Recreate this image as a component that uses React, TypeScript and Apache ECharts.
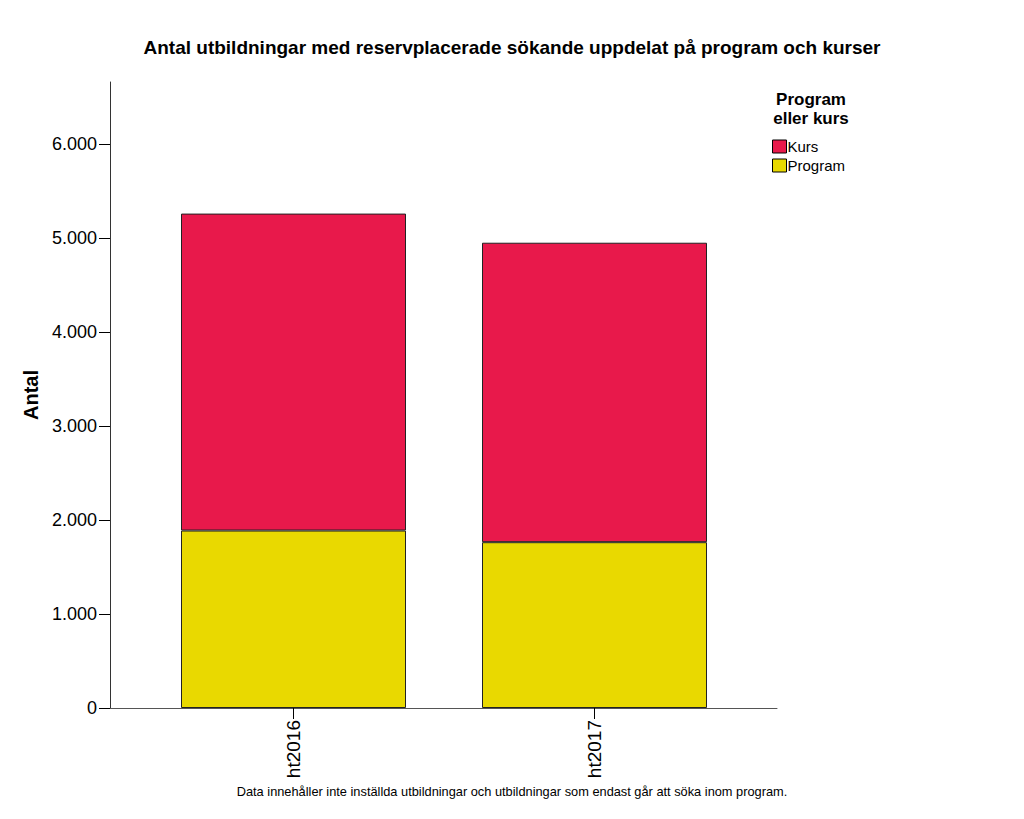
import React, { useEffect, useRef } from "react";
import * as echarts from "echarts";

const categories = ["ht2016", "ht2017"];
const programValues = [1888, 1764];
const kursValues = [3372, 3186];
const yTicks = [0, 1000, 2000, 3000, 4000, 5000, 6000];
const yMax = 6660;

const FONT = "'Liberation Sans', Arial, sans-serif";

const fmt = (v: number) => {
  const s = String(Math.round(v));
  return s.replace(/\B(?=(\d{3})+(?!\d))/g, ".");
};

export default function App() {
  const ref = useRef<HTMLDivElement>(null);
  useEffect(() => {
    if (!ref.current) return;
    const chart = echarts.init(ref.current, undefined, { renderer: "svg" });
    chart.setOption({
      animation: false,
      backgroundColor: "#ffffff",
      textStyle: { fontFamily: FONT },
      title: {
        text: "Antal utbildningar med reservplacerade sökande uppdelat på program och kurser",
        left: "center",
        top: 33,
        textStyle: { fontFamily: FONT, fontSize: 19, fontWeight: "bold", color: "#000" },
      },
      legend: {
        data: ["Kurs", "Program"],
        orient: "vertical",
        left: 767,
        top: 134,
        itemWidth: 14,
        itemHeight: 13,
        itemGap: 4,
        icon: "rect",
        selectedMode: false,
        textStyle: { fontFamily: FONT, fontSize: 15, color: "#000", padding: [0, 0, 0, -4] },
        itemStyle: { borderColor: "#000", borderWidth: 1 },
      },
      graphic: [
        {
          type: "text",
          x: 811,
          y: 90,
          style: {
            text: "Program\neller kurs",
            fontFamily: FONT,
            fontSize: 17,
            fontWeight: "bold",
            fill: "#000",
            align: "center",
            lineHeight: 19,
          },
        },
        {
          type: "text",
          left: "center",
          top: 785,
          style: {
            text: "Data innehåller inte inställda utbildningar och utbildningar som endast går att söka inom program.",
            fontFamily: FONT,
            fontSize: 12.8,
            fill: "#000",
          },
        },
      ],
      grid: [
        { left: 110, right: 1024 - 777, top: 82, bottom: 819 - 708 },
        { left: 143, right: 1024 - 745, top: 82, bottom: 819 - 708 },
      ],
      xAxis: [
        {
          type: "category",
          gridIndex: 0,
          data: categories,
          axisLine: { lineStyle: { color: "#555", width: 1 } },
          axisTick: { show: false },
          axisLabel: { show: false },
        },
        {
          type: "category",
          gridIndex: 1,
          data: categories,
          axisLine: { show: false },
          axisTick: { show: true, alignWithLabel: true, length: 11, lineStyle: { color: "#000" } },
          axisLabel: {
            rotate: 90,
            fontSize: 19,
            color: "#000",
            fontFamily: FONT,
            margin: 12,
          },
        },
      ],
      yAxis: [
        {
          type: "value",
          gridIndex: 0,
          min: 0,
          max: yMax,
          interval: 1000,
          name: "Antal",
          nameLocation: "middle",
          nameGap: 69,
          nameTextStyle: { fontFamily: FONT, fontSize: 20, fontWeight: "bold", color: "#000" },
          axisLine: { show: true, lineStyle: { color: "#333", width: 1 } },
          axisTick: { show: true, length: 11, lineStyle: { color: "#000" } },
          splitLine: { show: false },
          axisLabel: {
            fontSize: 18,
            color: "#000",
            fontFamily: FONT,
            margin: 13,
            showMaxLabel: false,
            formatter: (v: number) => (yTicks.includes(v) ? fmt(v) : ""),
          },
        },
        {
          type: "value",
          gridIndex: 1,
          min: 0,
          max: yMax,
          show: false,
          splitLine: { show: false },
        },
      ],
      series: [
        {
          name: "Program",
          type: "bar",
          stack: "total",
          xAxisIndex: 1,
          yAxisIndex: 1,
          data: programValues,
          barWidth: 225,
          itemStyle: { color: "#E9D900", borderColor: "#222", borderWidth: 1 },
        },
        {
          name: "Kurs",
          type: "bar",
          stack: "total",
          xAxisIndex: 1,
          yAxisIndex: 1,
          data: kursValues,
          barWidth: 225,
          itemStyle: { color: "#E8194B", borderColor: "#222", borderWidth: 1 },
        },
      ],
    });
    return () => chart.dispose();
  }, []);
  return (
    <div
      ref={ref}
      style={{ position: "fixed", left: 0, top: 0, width: 1024, height: 819 }}
    />
  );
}
